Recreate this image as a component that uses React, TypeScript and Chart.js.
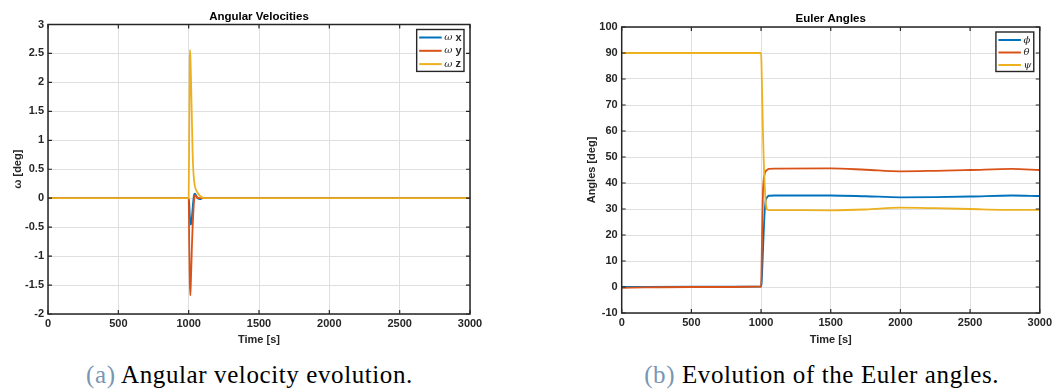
import React, { useEffect, useRef } from "react";
import { Chart, registerables } from "chart.js";

Chart.register(...registerables);

// ---------- Data: Angular velocities ----------
const wxTime = [0, 500, 1000, 1004, 1008, 1012, 1016, 1020, 1024, 1028, 1033, 1038, 1044, 1050, 1058, 1068, 1080, 1100, 1500, 2000, 2500, 3000];
const wxValues = [0, 0, 0, -0.1, -0.3, -0.42, -0.455, -0.4, -0.3, -0.18, -0.04, 0.05, 0.08, 0.06, 0.02, -0.01, -0.015, 0, 0, 0, 0, 0];

const wyTime = [0, 500, 1000, 1004, 1008, 1012, 1016, 1020, 1023, 1028, 1033, 1040, 1045, 1052, 1060, 1080, 1500, 2000, 2500, 3000];
const wyValues = [0, 0, 0, -0.8, -1.45, -1.68, -1.42, -1.1, -0.83, -0.5, -0.25, 0, 0.05, 0.04, 0.01, 0, 0, 0, 0, 0];

const wzTime = [0, 500, 1000, 1004, 1008, 1010, 1014, 1018, 1023, 1028, 1033, 1039, 1045, 1055, 1069, 1085, 1100, 1120, 1500, 2000, 2500, 3000];
const wzValues = [0, 0, 0, 1.2, 2.4, 2.56, 2.3, 1.9, 1.34, 0.8, 0.48, 0.3, 0.2, 0.13, 0.07, 0.03, 0.01, 0, 0, 0, 0, 0];

// ---------- Data: Euler angles ----------
const phiTime = [0, 500, 1000, 1004, 1008, 1014, 1019, 1024, 1028, 1033, 1040, 1047, 1057, 1100, 1500, 1750, 2000, 2250, 2500, 2800, 3000];
const phiValues = [0, 0.1, 0.2, 1.5, 6, 14, 21, 27, 30.5, 33.2, 34.2, 34.8, 35.1, 35.2, 35.2, 34.9, 34.5, 34.6, 34.8, 35.2, 35.0];

const thetaTime = [0, 500, 1000, 1003, 1006, 1010, 1014, 1019, 1026, 1033, 1045, 1057, 1100, 1500, 1750, 2000, 2250, 2500, 2800, 3000];
const thetaValues = [-0.3, 0, 0.2, 6, 16, 28, 37, 41.5, 43.5, 44.5, 45.1, 45.4, 45.5, 45.6, 45.1, 44.5, 44.7, 45.0, 45.4, 45.0];

const psiTime = [0, 500, 1000, 1003, 1007, 1011, 1015, 1019, 1023, 1028, 1033, 1039, 1046, 1060, 1100, 1500, 1750, 2000, 2250, 2500, 2750, 3000];
const psiValues = [90, 90, 90, 86, 76, 66, 57, 49, 43, 37, 33, 30.5, 29.7, 29.6, 29.6, 29.5, 29.8, 30.5, 30.3, 30.0, 29.7, 29.7];

// ---------- Ticks ----------
const timeTicks = [0, 500, 1000, 1500, 2000, 2500, 3000];
const omegaTicks = [-2, -1.5, -1, -0.5, 0, 0.5, 1, 1.5, 2, 2.5, 3];
const angleTicks = [-10, 0, 10, 20, 30, 40, 50, 60, 70, 80, 90, 100];

const omegaLabels = ["ω x", "ω y", "ω z"];
const eulerLabels = ["ϕ", "θ", "ψ"];

// ---------- Styles ----------
const FONT = "'Liberation Sans', Arial, Helvetica, sans-serif";
const AXIS_COLOR = "#262626";
const GRID_COLOR = "#dfdfdf";
const BLUE = "#0072BD";
const ORANGE = "#D95319";
const YELLOW = "#EDB120";

const toXY = (xs: number[], ys: number[]) => xs.map((x, i) => ({ x, y: ys[i] }));

const framePlugin = {
  id: "frame",
  afterDatasetsDraw(chart: any, _args: any, opts: any) {
    const { ctx, chartArea, scales } = chart;
    const { left, right, top, bottom } = chartArea;
    ctx.save();
    // box
    ctx.strokeStyle = AXIS_COLOR;
    ctx.lineWidth = 1.5;
    ctx.strokeRect(left, top, right - left, bottom - top);
    // inward ticks
    ctx.lineWidth = 1.2;
    const L = 4;
    ctx.beginPath();
    scales.x.ticks.forEach((t: any) => {
      const px = scales.x.getPixelForValue(t.value);
      ctx.moveTo(px, bottom);
      ctx.lineTo(px, bottom - L);
      ctx.moveTo(px, top);
      ctx.lineTo(px, top + L);
    });
    scales.y.ticks.forEach((t: any) => {
      const py = scales.y.getPixelForValue(t.value);
      ctx.moveTo(left, py);
      ctx.lineTo(left + L, py);
      ctx.moveTo(right, py);
      ctx.lineTo(right - L, py);
    });
    ctx.stroke();

    // title
    ctx.fillStyle = "#000";
    ctx.font = `bold 11.5px ${FONT}`;
    ctx.textAlign = "center";
    ctx.textBaseline = "alphabetic";
    ctx.fillText(opts.text, (left + right) / 2, top - 5);

    // legend
    const ds = chart.data.datasets;
    const greekFont = "italic 10px 'DejaVu Serif', serif";
    const boldFont = `bold 11px ${FONT}`;
    const parts = ds.map((d: any) => {
      const lbl: string = d.label;
      const sp = lbl.indexOf(" ");
      const g = sp >= 0 ? lbl.slice(0, sp) : lbl;
      const r = sp >= 0 ? lbl.slice(sp) : "";
      ctx.font = greekFont;
      const gw = ctx.measureText(g).width;
      ctx.font = boldFont;
      const rw = ctx.measureText(r).width;
      return { g, r, gw, rw };
    });
    const maxW = Math.max(...parts.map((p: any) => p.gw + p.rw));
    const padL = 2.5, lineLen = 22.5, gap = 2.5, padR = 2.5;
    const rowH = opts.rowH;
    const boxW = padL + lineLen + gap + maxW + padR;
    const boxH = rowH * ds.length + 2;
    const bx = right - 6 - boxW;
    const by = top + 5;
    ctx.fillStyle = "#fff";
    ctx.fillRect(bx, by, boxW, boxH);
    ctx.strokeStyle = AXIS_COLOR;
    ctx.lineWidth = 1.4;
    ctx.strokeRect(bx, by, boxW, boxH);
    ds.forEach((d: any, i: number) => {
      const cy = by + 8 + i * rowH;
      ctx.strokeStyle = d.borderColor;
      ctx.lineWidth = 2;
      ctx.beginPath();
      ctx.moveTo(bx + padL, cy);
      ctx.lineTo(bx + padL + lineLen, cy);
      ctx.stroke();
      const tx = bx + padL + lineLen + gap;
      ctx.fillStyle = AXIS_COLOR;
      ctx.textAlign = "left";
      ctx.textBaseline = "middle";
      ctx.font = greekFont;
      ctx.fillText(parts[i].g, tx, cy);
      ctx.font = boldFont;
      ctx.fillText(parts[i].r, tx + parts[i].gw, cy);
    });
    ctx.restore();
  },
};

const tickFont = { family: FONT, size: 11, weight: "bold" as const };

function makeConfig(p: {
  datasets: any[];
  yTicks: number[];
  yTitle: string;
  title: string;
  yAxisWidth: number;
  yTitlePad: number;
  padTop: number;
  padRight: number;
  xAxisHeight: number;
  rowH: number;
}) {
  const yMin = p.yTicks[0];
  const yMax = p.yTicks[p.yTicks.length - 1];
  return {
    type: "line" as const,
    data: { datasets: p.datasets },
    plugins: [framePlugin],
    options: {
      animation: false,
      responsive: false,
      parsing: true,
      layout: { padding: { top: p.padTop, right: p.padRight, left: 0, bottom: 0 } },
      plugins: {
        legend: { display: false },
        tooltip: { enabled: false },
        title: { display: false },
        frame: { text: p.title, rowH: p.rowH },
      },
      elements: { point: { radius: 0 }, line: { borderWidth: 1.8 } },
      scales: {
        x: {
          type: "linear",
          min: 0,
          max: 3000,
          afterBuildTicks: (s: any) => {
            s.ticks = timeTicks.map((v) => ({ value: v }));
          },
          ticks: {
            padding: 3,
            color: AXIS_COLOR,
            font: tickFont,
            maxRotation: 0,
            autoSkip: false,
            callback: (v: any) => String(v),
          },
          grid: { color: GRID_COLOR, drawTicks: false, lineWidth: 1 },
          border: { display: false },
          title: {
            display: true,
            text: "Time [s]",
            color: AXIS_COLOR,
            font: tickFont,
            padding: { top: 0, bottom: 0 },
          },
          afterFit: (s: any) => {
            s.height = p.xAxisHeight;
          },
        },
        y: {
          type: "linear",
          min: yMin,
          max: yMax,
          afterBuildTicks: (s: any) => {
            s.ticks = p.yTicks.map((v) => ({ value: v }));
          },
          ticks: {
            padding: 4,
            color: AXIS_COLOR,
            font: tickFont,
            autoSkip: false,
            callback: (v: any) => String(v),
          },
          grid: { color: GRID_COLOR, drawTicks: false, lineWidth: 1 },
          border: { display: false },
          title: {
            display: true,
            text: p.yTitle,
            color: AXIS_COLOR,
            font: tickFont,
            padding: { top: p.yTitlePad, bottom: 0 },
          },
          afterFit: (s: any) => {
            s.width = p.yAxisWidth;
          },
        },
      },
    },
  };
}

function line(label: string, color: string, xs: number[], ys: number[], order: number) {
  return {
    label,
    data: toXY(xs, ys),
    borderColor: color,
    backgroundColor: color,
    borderWidth: 1.8,
    pointRadius: 0,
    fill: false,
    cubicInterpolationMode: "monotone" as const,
    order,
  };
}

function ChartBox(props: { left: number; top: number; width: number; height: number; config: any }) {
  const ref = useRef<HTMLCanvasElement>(null);
  useEffect(() => {
    const chart = new Chart(ref.current as HTMLCanvasElement, props.config);
    return () => chart.destroy();
  }, []);
  return (
    <div style={{ position: "absolute", left: props.left, top: props.top, width: props.width, height: props.height }}>
      <canvas ref={ref} width={props.width} height={props.height} style={{ width: props.width, height: props.height, display: "block" }} />
    </div>
  );
}

const captionStyle: React.CSSProperties = {
  position: "absolute",
  top: 362,
  width: 600,
  textAlign: "center",
  fontFamily: "'Liberation Serif', 'Times New Roman', serif",
  fontSize: 25,
  lineHeight: "25px",
  letterSpacing: "0.6px",
  color: "#000",
  whiteSpace: "nowrap",
};

export default function App() {
  const leftConfig = makeConfig({
    datasets: [
      line(omegaLabels[0], BLUE, wxTime, wxValues, 3),
      line(omegaLabels[1], ORANGE, wyTime, wyValues, 2),
      line(omegaLabels[2], YELLOW, wzTime, wzValues, 1),
    ],
    yTicks: omegaTicks,
    yTitle: "ω [deg]",
    title: "Angular Velocities",
    yAxisWidth: 48,
    yTitlePad: 11.4,
    padTop: 24.5,
    padRight: 30,
    xAxisHeight: 33,
    rowH: 13.3,
  });
  const rightConfig = makeConfig({
    datasets: [
      line(eulerLabels[0], BLUE, phiTime, phiValues, 3),
      line(eulerLabels[1], ORANGE, thetaTime, thetaValues, 2),
      line(eulerLabels[2], YELLOW, psiTime, psiValues, 1),
    ],
    yTicks: angleTicks,
    yTitle: "Angles [deg]",
    title: "Euler Angles",
    yAxisWidth: 81.7,
    yTitlePad: 45.4,
    padTop: 27,
    padRight: 12.5,
    xAxisHeight: 34,
    rowH: 12.5,
  });
  return (
    <div style={{ position: "fixed", left: 0, top: 0, width: 1055, height: 390, background: "#fff", overflow: "hidden" }}>
      <ChartBox left={0} top={0} width={500} height={347} config={leftConfig} />
      <ChartBox left={540} top={0} width={515} height={347} config={rightConfig} />
      <div style={{ ...captionStyle, left: 249.5 - 300 }}>
        <span style={{ color: "#7896b4" }}>(a)</span> Angular velocity evolution.
      </div>
      <div style={{ ...captionStyle, left: 821.7 - 300 }}>
        <span style={{ color: "#7896b4" }}>(b)</span> Evolution of the Euler angles.
      </div>
    </div>
  );
}
